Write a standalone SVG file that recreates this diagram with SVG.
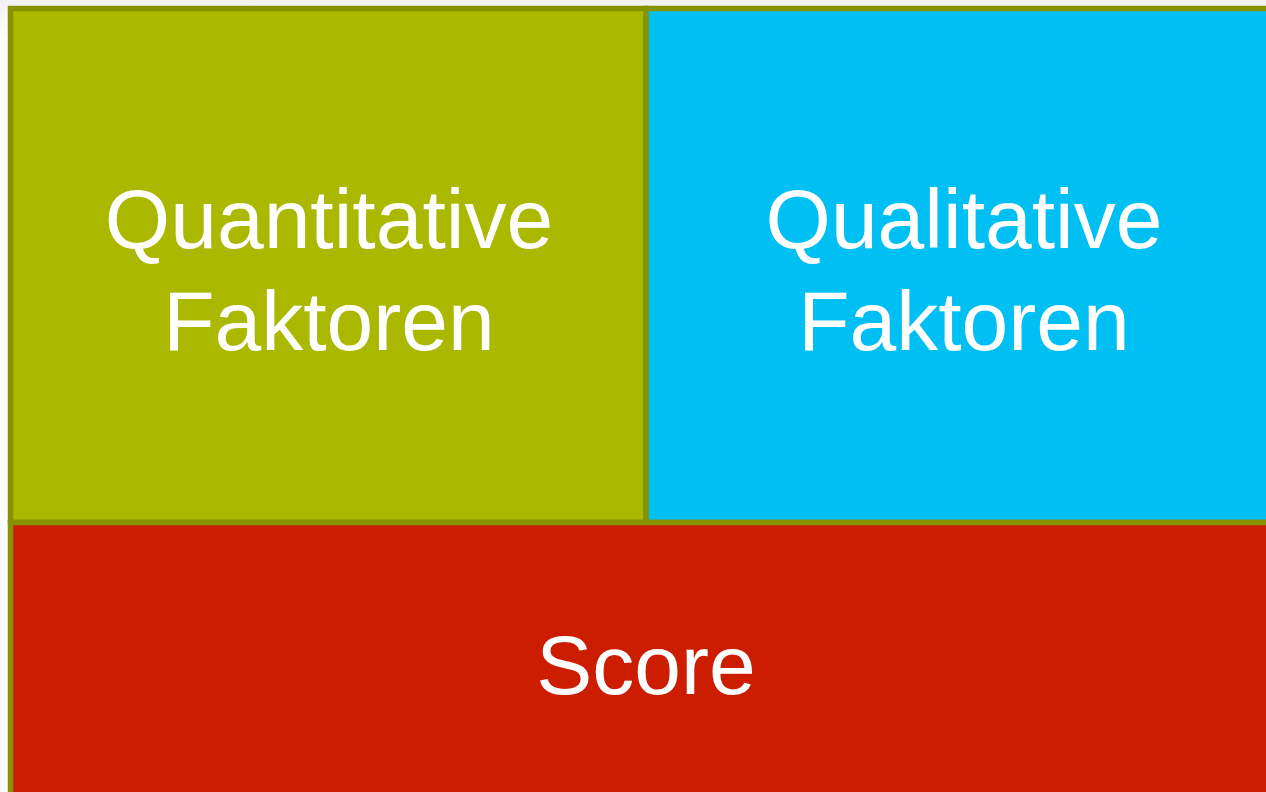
<svg xmlns="http://www.w3.org/2000/svg" width="1266" height="792" viewBox="0 0 1266 792">
  <defs>
    <linearGradient id="bg" x1="0" y1="0" x2="0" y2="1">
      <stop offset="0" stop-color="#f2f2f4"/>
      <stop offset="0.05" stop-color="#ffffff"/>
    </linearGradient>
    <style>
      .cell { stroke: #879200; stroke-width: 5.5; }
      .lbl { font-family: "Liberation Sans", Arial, sans-serif; font-size: 84px; fill: #ffffff; text-anchor: middle; }
    </style>
  </defs>
  <rect x="0" y="0" width="1266" height="792" fill="url(#bg)"/>
  <g id="quantitative">
    <rect class="cell" x="10.5" y="8.5" width="635.5" height="514" fill="#abb800"/>
    <text class="lbl" x="329" y="248">Quantitative</text>
    <text class="lbl" x="329" y="350">Faktoren</text>
  </g>
  <g id="qualitative">
    <rect class="cell" x="646" y="8.5" width="640" height="514" fill="#00bff3"/>
    <text class="lbl" x="964" y="248">Qualitative</text>
    <text class="lbl" x="964" y="350">Faktoren</text>
  </g>
  <g id="score">
    <rect class="cell" x="10.5" y="522.5" width="1280" height="300" fill="#cc1d00"/>
    <text class="lbl" x="646" y="694">Score</text>
  </g>
  <g id="connectors"/>
</svg>
